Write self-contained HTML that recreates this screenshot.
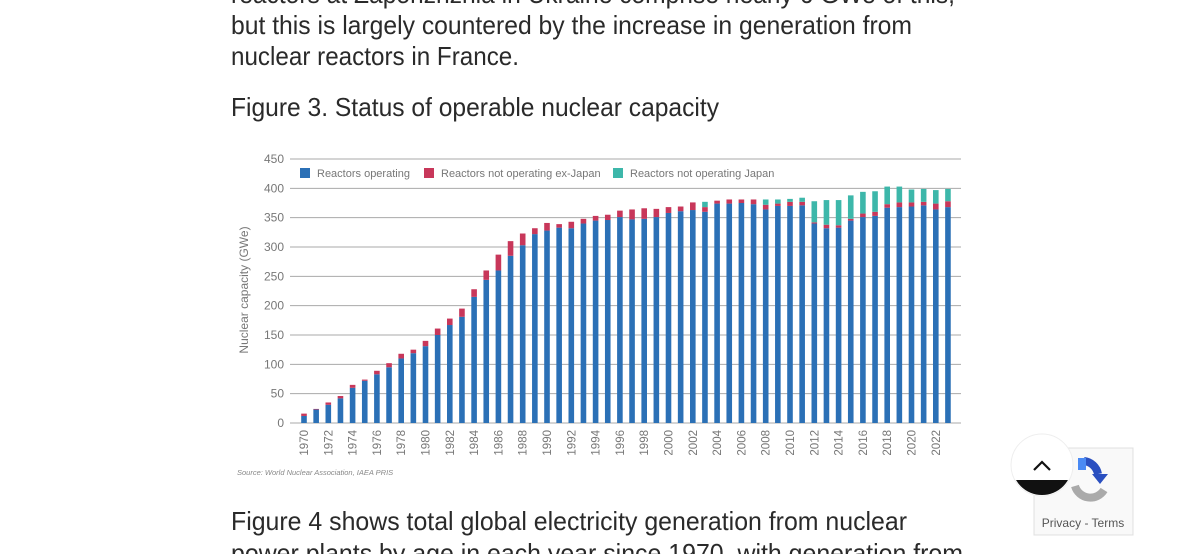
<!DOCTYPE html>
<html><head><meta charset="utf-8"><style>
html,body{margin:0;padding:0;background:#fff;width:1200px;height:554px;overflow:hidden}
svg{display:block}
</style></head><body>
<svg width="1200" height="554" viewBox="0 0 1200 554" xmlns="http://www.w3.org/2000/svg" font-family="Liberation Sans, sans-serif">
<g fill="#2a2a2a" font-size="26">
<text x="231" y="3" textLength="724" lengthAdjust="spacingAndGlyphs">reactors at Zaporizhzhia in Ukraine comprise nearly 6 GWe of this,</text>
<text x="231" y="34" textLength="681" lengthAdjust="spacingAndGlyphs">but this is largely countered by the increase in generation from</text>
<text x="231" y="65" textLength="288" lengthAdjust="spacingAndGlyphs">nuclear reactors in France.</text>
<text x="231" y="116" textLength="488" lengthAdjust="spacingAndGlyphs">Figure 3. Status of operable nuclear capacity</text>
<text x="231" y="530" textLength="676" lengthAdjust="spacingAndGlyphs">Figure 4 shows total global electricity generation from nuclear</text>
<text x="231" y="562" textLength="732" lengthAdjust="spacingAndGlyphs">power plants by age in each year since 1970, with generation from</text>
</g>
<g id="chart"></g>
<g font-size="11" fill="#777">
<rect x="300" y="168" width="10" height="10" fill="#2b70b6"/><text x="317" y="177">Reactors operating</text>
<rect x="424" y="168" width="10" height="10" fill="#c8375a"/><text x="441" y="177">Reactors not operating ex-Japan</text>
<rect x="613" y="168" width="10" height="10" fill="#3db7aa"/><text x="630" y="177">Reactors not operating Japan</text>
</g>
<text x="0" y="0" transform="translate(248,290) rotate(-90)" text-anchor="middle" font-size="12" fill="#777">Nuclear capacity (GWe)</text>
<text x="237" y="475" font-size="7.5" font-style="italic" fill="#888">Source: World Nuclear Association, IAEA PRIS</text>
<g>
<rect x="1034" y="448" width="99" height="87" fill="#f9f9f9" stroke="#e0e0e0"/>
<path d="M1075 486 A16 16 0 0 0 1104 490" stroke="#aaa" stroke-width="8" fill="none"/>
<path d="M1084 461 A16 16 0 0 1 1098 474" stroke="#2a4fc0" stroke-width="8" fill="none"/>
<path d="M1092 474 L1108 474 L1100 484 Z" fill="#2a4fc0"/>
<rect x="1078" y="458" width="8" height="12" fill="#4a8af4"/>
<text x="1083" y="527" text-anchor="middle" font-size="12" fill="#555">Privacy - Terms</text>
<clipPath id="cc"><circle cx="1042" cy="465" r="30"/></clipPath>
<circle cx="1042" cy="465" r="31" fill="#fff" stroke="#eee"/>
<rect x="1010" y="480" width="64" height="20" fill="#111" clip-path="url(#cc)"/>
<path d="M1034 470 l8 -8 l8 8" stroke="#111" stroke-width="2.2" fill="none"/>
</g>
</svg>
<script>
var d=[[12,16,16],[23,24,24],[31,35,35],[42,46,46],[60,65,65],[72,74,74],[83,89,89],[95,102,102],[110,118,118],[119,125,125],[131,140,140],[150,161,161],[167,178,178],[181,195,195],[215,228,228],[244,260,260],[260,287,287],[285,310,310],[303,323,323],[322,332,332],[328,341,341],[333,339,339],[332,343,343],[340,348,348],[345,353,353],[346,355,355],[351,362,362],[347,364,364],[348,366,366],[351,365,365],[358,368,368],[361,369,369],[363,376,376],[360,368,377],[374,379,379],[374,381,381],[375,381,381],[373,381,381],[364,372,381],[370,374,381],[370,377,382],[371,377,384],[340,342,378],[332,338,380],[333,337,380],[345,348,388],[351,357,394],[353,360,395],[367,373,403],[368,376,403],[369,376,398],[371,377,399],[364,374,397],[368,378,399]];
var s='',y0=423,k=264/450;
for(var i=0;i<=9;i++){var y=y0-i*50*k;s+='<line x1="290" x2="961" y1="'+y+'" y2="'+y+'" stroke="#aaa" stroke-width="1"/>';s+='<text x="284" y="'+(y+4)+'" text-anchor="end" font-size="12" fill="#777">'+(i*50)+'</text>';}
d.forEach(function(v,i){var cx=304+i*12.15,x=cx-2.8,w=5.6;
var yb=y0-v[0]*k,yr=y0-v[1]*k,yt=y0-v[2]*k;
s+='<rect x="'+x+'" y="'+yb+'" width="'+w+'" height="'+(y0-yb)+'" fill="#2b70b6"/>';
if(v[1]>v[0])s+='<rect x="'+x+'" y="'+yr+'" width="'+w+'" height="'+(yb-yr)+'" fill="#c8375a"/>';
if(v[2]>v[1])s+='<rect x="'+x+'" y="'+yt+'" width="'+w+'" height="'+(yr-yt)+'" fill="#3db7aa"/>';
if(i%2==0)s+='<text transform="translate('+(cx+4)+',430) rotate(-90)" text-anchor="end" font-size="11.5" fill="#777">'+(1970+i)+'</text>';});
document.getElementById('chart').innerHTML=s;
</script>
</body></html>
